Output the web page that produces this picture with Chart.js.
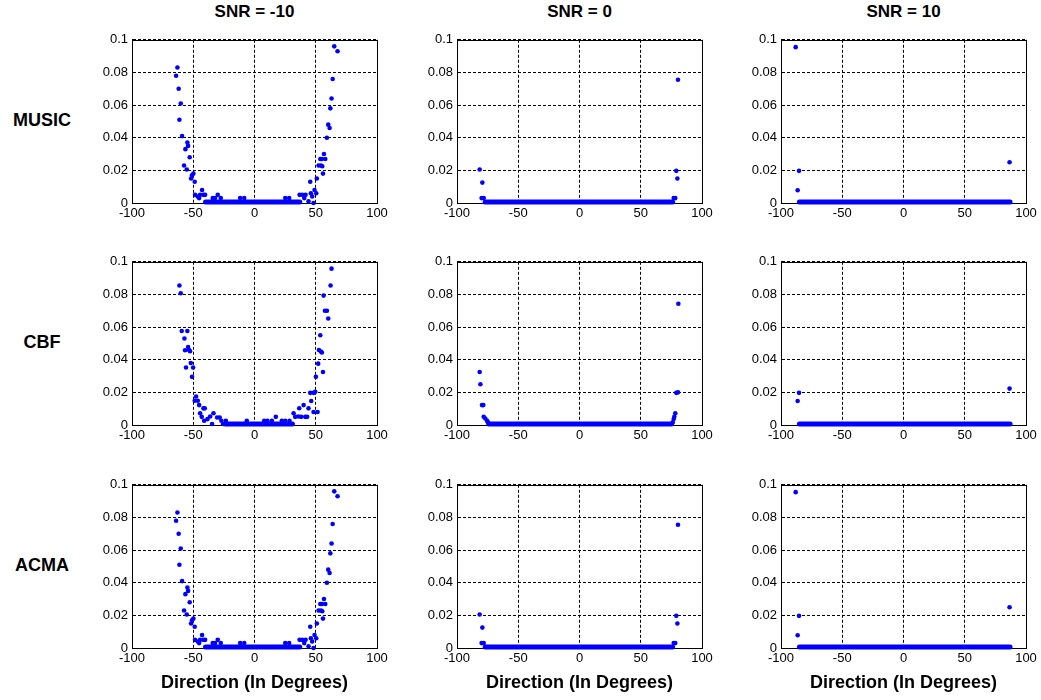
<!DOCTYPE html>
<html>
<head>
<meta charset="utf-8">
<title>DOA estimates</title>
<script src="https://cdn.jsdelivr.net/npm/chart.js@4.4.1/dist/chart.umd.min.js"></script>
<style>
  body { margin: 0; background: #fff; width: 1041px; height: 700px; position: relative; overflow: hidden;
         font-family: Arial, "Liberation Sans", sans-serif; }
  .panel { position: absolute; }
  .lbl { position: absolute; font-weight: bold; font-size: 18px; color: #000;
         transform: translate(-50%, -50%); white-space: nowrap; }
  .col { font-size: 17px; }
</style>
</head>
<body>
<script>
// —————— DATA ——————
const methods = ['MUSIC', 'CBF', 'ACMA'];
const snrLabels = ['SNR = -10', 'SNR = 0', 'SNR = 10'];
const xTickLabels = ['-100', '-50', '0', '50', '100'];
const yTickLabels = ['0', '0.02', '0.04', '0.06', '0.08', '0.1'];
const xAxisTitle = 'Direction (In Degrees)';

// scattered estimates [direction, value]
const musicSnrM10 = [
  [-64.0, 0.078], [-62.9, 0.083], [-61.9, 0.070], [-60.2, 0.061], [-61.3, 0.051], [-59.1, 0.041],
  [-54.8, 0.037], [-54.2, 0.035], [-56.4, 0.033], [-52.9, 0.028], [-57.5, 0.023], [-55.3, 0.0205],
  [-51.0, 0.017], [-49.9, 0.018], [-51.8, 0.015], [-48.8, 0.013], [-48.5, 0.005], [-46.3, 0.004],
  [-45.2, 0.003], [-44.4, 0.005], [-42.8, 0.008], [-41.7, 0.005], [-40.3, 0.005], [-34.1, 0.003],
  [-32.2, 0.003], [-30.0, 0.005], [-27.5, 0.003], [-11.7, 0.003], [-8.4, 0.003], [25.1, 0.003],
  [28.3, 0.003], [36.8, 0.005], [39.0, 0.005], [40.6, 0.003], [41.7, 0.005], [44.1, 0.001],
  [46.0, 0.006], [45.5, 0.013], [47.1, 0.004], [48.2, 0.0], [49.0, 0.008], [50.4, 0.006],
  [50.9, 0.015], [52.3, 0.023], [54.2, 0.023], [55.3, 0.0225], [53.7, 0.027], [55.0, 0.027],
  [55.9, 0.018], [56.7, 0.030], [57.8, 0.027], [59.1, 0.040], [60.2, 0.048], [61.3, 0.046],
  [61.9, 0.058], [62.9, 0.064], [63.8, 0.076], [65.1, 0.096], [67.8, 0.093]
];
const musicSnr0 = [
  [-81.5, 0.0205], [-79.3, 0.0125], [-79.9, 0.003], [-78.2, 0.003],
  [76.9, 0.003], [78.2, 0.003], [79.0, 0.0197], [79.9, 0.015], [80.4, 0.0755]
];
const musicSnr10 = [[-88.0, 0.0955], [-86.4, 0.0078], [-85.3, 0.0197], [86.6, 0.025]];

const cbfSnrM10 = [
  [-61.3, 0.0855], [-60.2, 0.0807], [-59.4, 0.0576], [-54.8, 0.0576], [-57.2, 0.053], [-56.7, 0.0458],
  [-54.2, 0.0478], [-52.6, 0.0452], [-53.4, 0.046], [-55.9, 0.0352], [-52.0, 0.038], [-50.1, 0.0352],
  [-51.0, 0.0295], [-48.8, 0.0149], [-47.7, 0.0175], [-46.3, 0.0149], [-45.2, 0.0122], [-44.4, 0.0072],
  [-41.7, 0.0102], [-40.6, 0.0102], [-43.1, 0.005], [-41.1, 0.0026], [-38.4, 0.0036], [-36.2, 0.0052],
  [-33.5, 0.0072], [-34.6, 0.0006], [-30.5, 0.0046], [-28.4, 0.0046], [-27.0, 0.0026], [-23.4, 0.0026],
  [-25.7, 0.0006], [-6.3, 0.0026], [7.9, 0.0026], [10.6, 0.0026], [14.2, 0.0026], [17.4, 0.005],
  [22.3, 0.0026], [25.1, 0.0026], [28.6, 0.0026], [31.9, 0.0072], [33.2, 0.005], [35.7, 0.0052],
  [36.5, 0.0103], [38.1, 0.005], [40.1, 0.0122], [41.4, 0.005], [43.0, 0.005], [44.1, 0.0102],
  [45.5, 0.0197], [46.3, 0.0147], [48.2, 0.0197], [48.2, 0.008], [49.6, 0.0203], [50.1, 0.0295],
  [51.5, 0.008], [52.0, 0.0376], [52.6, 0.046], [53.7, 0.055], [54.2, 0.045], [55.0, 0.0444],
  [55.9, 0.0325], [56.4, 0.0793], [57.5, 0.070], [59.1, 0.070], [60.2, 0.0653], [62.1, 0.0855],
  [62.9, 0.0958]
];
const cbfSnr0 = [
  [-81.5, 0.0325], [-80.9, 0.025], [-79.6, 0.0122], [-78.5, 0.0122], [-78.2, 0.005], [-76.9, 0.004],
  [-75.5, 0.0026], [-74.7, 0.0016], [76.1, 0.0016], [76.9, 0.0036], [77.4, 0.005], [78.2, 0.0072],
  [79.0, 0.0197], [80.4, 0.020], [80.7, 0.0743]
];
const cbfSnr10 = [[-86.4, 0.0147], [-85.3, 0.0197], [86.6, 0.0223]];

// ACMA estimates read the same as MUSIC in the picture
const acmaSnrM10 = musicSnrM10.slice();
const acmaSnr0 = musicSnr0.slice();
const acmaSnr10 = musicSnr10.slice();

// dense runs of zero-valued estimates [from, to]
const musicZeroRuns = [[-40, 37], [-77, 76], [-85, 87]];
const cbfZeroRuns = [[-24, 31], [-74, 75], [-85, 87]];
const acmaZeroRuns = [[-40, 37], [-77, 76], [-85, 87]];

const panelPoints = [
  [musicSnrM10, musicSnr0, musicSnr10],
  [cbfSnrM10, cbfSnr0, cbfSnr10],
  [acmaSnrM10, acmaSnr0, acmaSnr10]
];
const panelZeroRuns = [musicZeroRuns, cbfZeroRuns, acmaZeroRuns];

// —————— LAYOUT ——————
const colLeft = [132, 457, 781];
const rowTop = [36, 258, 481];
const plotW = 245, plotH = 167;
const yAxisW = 50, padTop = 8, padRight = 16;
const blue = '#0000ff';
const fontFamily = 'Arial, "Liberation Sans", sans-serif';

// solid box round the plot area (MATLAB style)
const framePlugin = {
  id: 'frame',
  beforeDatasetsDraw(chart) {
    const { ctx, chartArea: a } = chart;
    ctx.save();
    ctx.strokeStyle = '#000';
    ctx.lineWidth = 1;
    ctx.setLineDash([]);
    ctx.strokeRect(Math.round(a.left) + 0.5, Math.round(a.top) + 0.5, Math.round(a.width), Math.round(a.height));
    ctx.restore();
  }
};

function addLabel(text, x, y, cls) {
  const d = document.createElement('div');
  d.className = 'lbl' + (cls ? ' ' + cls : '');
  d.style.left = x + 'px';
  d.style.top = y + 'px';
  d.textContent = text;
  document.body.appendChild(d);
}

snrLabels.forEach((t, c) => addLabel(t, colLeft[c] + plotW / 2, 12, 'col'));
methods.forEach((m, r) => addLabel(m, 42, rowTop[r] + plotH / 2));

function makePanel(r, c) {
  const lastRow = r === methods.length - 1;
  const xAxisH = lastRow ? 52 : 22;
  const w = yAxisW + plotW + padRight;
  const h = padTop + plotH + xAxisH;

  const div = document.createElement('div');
  div.className = 'panel';
  div.style.left = (colLeft[c] - yAxisW) + 'px';
  div.style.top = (rowTop[r] - padTop) + 'px';
  const canvas = document.createElement('canvas');
  canvas.width = w;
  canvas.height = h;
  canvas.style.width = w + 'px';
  canvas.style.height = h + 'px';
  div.appendChild(canvas);
  document.body.appendChild(div);

  const run = panelZeroRuns[r][c];
  const tickFont = { family: fontFamily, size: 13 };

  new Chart(canvas, {
    type: 'scatter',
    data: {
      datasets: [
        {
          data: [{ x: run[0], y: 0.0006 }, { x: run[1], y: 0.0006 }],
          showLine: true,
          borderColor: blue,
          borderWidth: 5,
          borderCapStyle: 'round',
          pointRadius: 0,
          clip: false
        },
        {
          data: panelPoints[r][c].map(p => ({ x: p[0], y: p[1] })),
          backgroundColor: blue,
          borderWidth: 0,
          pointRadius: 2.3,
          clip: false
        }
      ]
    },
    options: {
      responsive: false,
      animation: false,
      events: [],
      layout: { padding: { top: padTop, right: padRight, left: 0, bottom: 0 } },
      plugins: { legend: { display: false }, tooltip: { enabled: false } },
      scales: {
        x: {
          type: 'linear',
          min: -100,
          max: 100,
          afterFit: s => { s.height = xAxisH; },
          afterBuildTicks: s => { s.ticks = xTickLabels.map(v => ({ value: Number(v) })); },
          ticks: { callback: (v, i) => xTickLabels[i], color: '#000', font: tickFont, padding: 3, maxRotation: 0, autoSkip: false },
          grid: { color: '#000', lineWidth: 1, drawTicks: false },
          border: { display: true, color: '#000', width: 1, dash: [3, 2] },
          title: {
            display: lastRow,
            text: xAxisTitle,
            color: '#000',
            font: { family: fontFamily, size: 18, weight: 'bold' },
            padding: { top: 0, bottom: 6 }
          }
        },
        y: {
          type: 'linear',
          min: 0,
          max: 0.1,
          afterFit: s => { s.width = yAxisW; },
          afterBuildTicks: s => { s.ticks = yTickLabels.map(v => ({ value: Number(v) })); },
          ticks: { callback: (v, i) => yTickLabels[i], color: '#000', font: tickFont, padding: 4, autoSkip: false },
          grid: { color: '#000', lineWidth: 1, drawTicks: false },
          border: { display: true, color: '#000', width: 1, dash: [3, 2] }
        }
      }
    },
    plugins: [framePlugin]
  });
}

for (let r = 0; r < methods.length; r++) {
  for (let c = 0; c < snrLabels.length; c++) makePanel(r, c);
}
</script>
</body>
</html>
